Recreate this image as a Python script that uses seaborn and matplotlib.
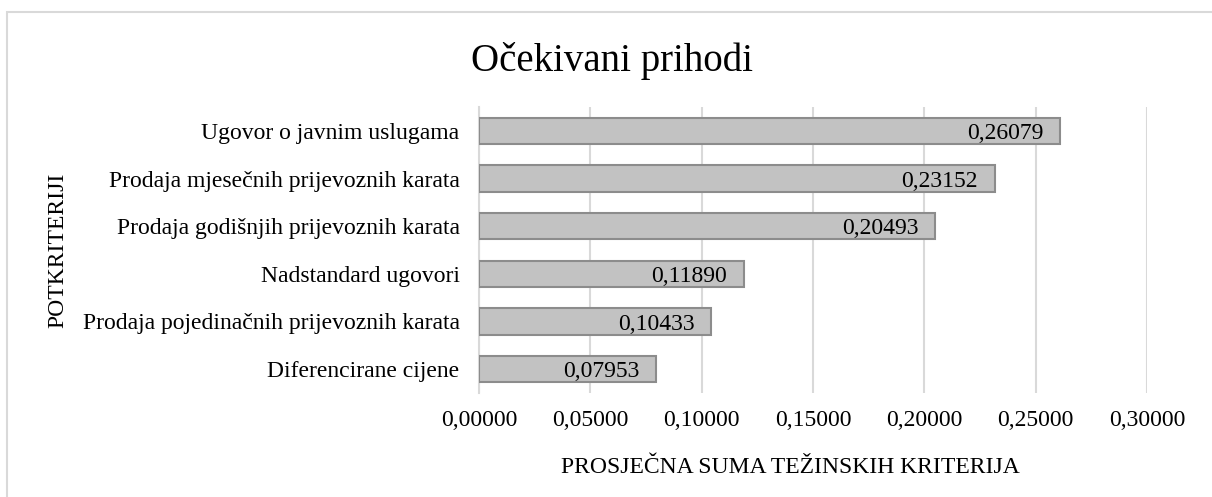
import matplotlib
matplotlib.use('Agg')
import matplotlib.pyplot as plt
import seaborn as sns
import pandas as pd
from matplotlib.ticker import FuncFormatter
from matplotlib.patches import Rectangle

categories = ['Ugovor o javnim uslugama',
              'Prodaja mjesečnih prijevoznih karata',
              'Prodaja godišnjih prijevoznih karata',
              'Nadstandard ugovori',
              'Prodaja pojedinačnih prijevoznih karata',
              'Diferencirane cijene']
values = [0.26079, 0.23152, 0.20493, 0.11890, 0.10433, 0.07953]
x_ticks = [0.0, 0.05, 0.10, 0.15, 0.20, 0.25, 0.30]

sns.set_style('white')
plt.rcParams['font.family'] = ['Liberation Serif', 'DejaVu Serif']
plt.rcParams['text.color'] = 'black'
plt.rcParams['axes.labelcolor'] = 'black'
plt.rcParams['xtick.color'] = 'black'
plt.rcParams['ytick.color'] = 'black'

data = pd.DataFrame({'Potkriterij': categories, 'Vrijednost': values})

fig = plt.figure(figsize=(12.12, 4.97), dpi=100)
ax = fig.add_axes([479 / 1212, 1 - 393 / 497, 668 / 1212, 286 / 497])

sns.barplot(data=data, x='Vrijednost', y='Potkriterij', orient='h',
            color='#c2c2c2', edgecolor='#8c8c8c', linewidth=1.5,
            width=0.55, saturation=1, ax=ax, zorder=3)

for i, v in enumerate(values):
    ax.annotate(f'{v:.5f}'.replace('.', ','), xy=(v, i), xytext=(-12, 0),
                textcoords='offset points', ha='right', va='center_baseline',
                fontsize=17, color='black', zorder=4)

ax.set_xlim(0, 0.30)
ax.set_ylim(5.5, -0.5)
ax.set_xticks(x_ticks)
ax.xaxis.set_major_formatter(FuncFormatter(lambda x, p: f'{x:.5f}'.replace('.', ',')))
ax.tick_params(axis='x', length=0, pad=12, labelsize=17, colors='black')
ax.tick_params(axis='y', length=0, pad=14, labelsize=17, colors='black')
ax.grid(axis='x', color='#d9d9d9', linewidth=1.5, zorder=0)
ax.set_axisbelow(True)
for s in ['top', 'right', 'bottom']:
    ax.spines[s].set_visible(False)
ax.spines['left'].set_color('#d9d9d9')
ax.spines['left'].set_linewidth(1.5)

ax.set_xlabel('PROSJEČNA SUMA TEŽINSKIH KRITERIJA', fontsize=17, color='black')
ax.xaxis.set_label_coords(0.466, -0.224)
ax.set_ylabel('POTKRITERIJI', fontsize=17, color='black')
ax.yaxis.set_label_coords(-0.615, 0.5)

fig.text(612 / 1212, 1 - 57 / 497, 'Očekivani prihodi', fontsize=28,
         ha='center', va='center_baseline', color='black')

fig.patches.append(Rectangle((6.5 / 1212, -0.1), 2, 1 - 11.5 / 497 + 0.1,
                             transform=fig.transFigure, fill=False,
                             edgecolor='#d9d9d9', linewidth=1.5))

fig.savefig('out.png', dpi=100)
